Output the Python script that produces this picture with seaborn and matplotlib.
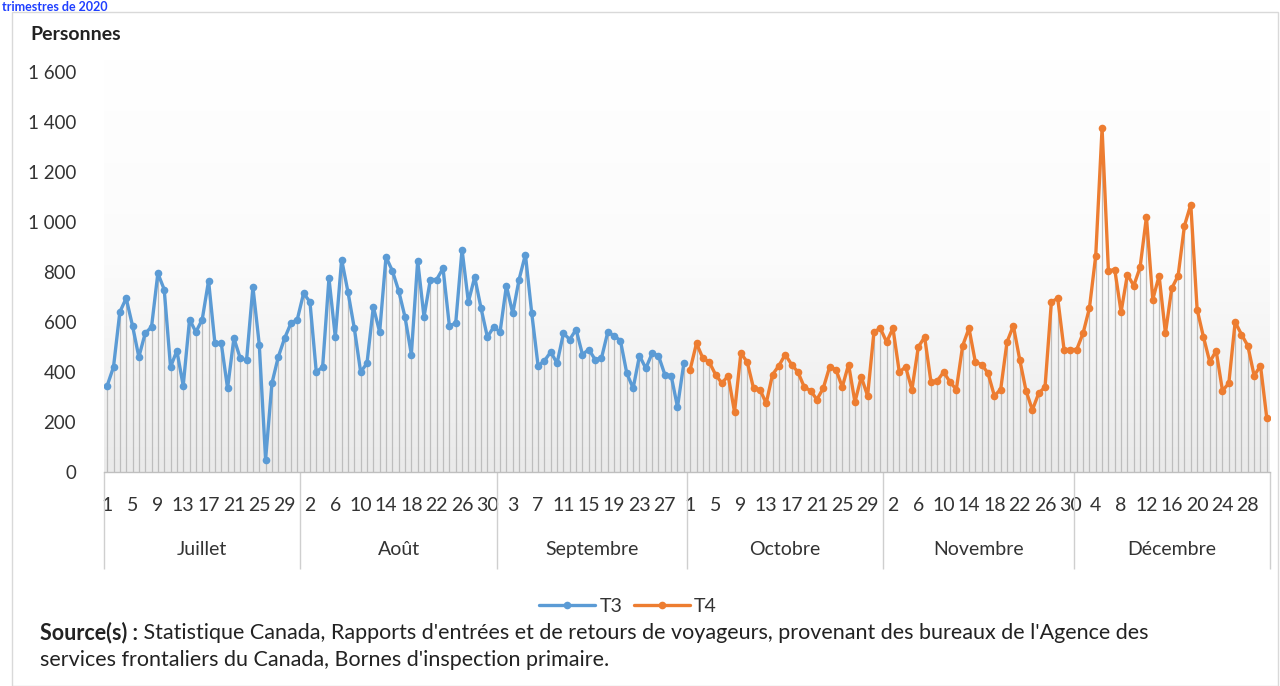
import numpy as np
import pandas as pd
import matplotlib
matplotlib.use("Agg")
import matplotlib.pyplot as plt
from matplotlib.colors import LinearSegmentedColormap
from matplotlib.patches import Rectangle
import seaborn as sns

# valeurs quotidiennes (personnes)
juillet = [345, 420, 640, 695, 585, 460, 555, 580, 795, 730, 420, 485, 345, 610, 560, 610,
           765, 515, 515, 335, 535, 455, 448, 740, 510, 50, 355, 460, 535, 595, 610]
aout = [715, 680, 400, 420, 775, 540, 850, 720, 575, 400, 435, 660, 560, 860, 805, 725,
        620, 470, 845, 620, 770, 770, 815, 585, 595, 890, 680, 780, 655, 540, 580]
septembre = [560, 745, 635, 770, 870, 635, 425, 445, 480, 435, 555, 530, 570, 470, 490,
             450, 455, 560, 545, 525, 395, 335, 465, 415, 475, 465, 390, 385, 260, 435]
octobre = [410, 515, 455, 440, 390, 355, 385, 240, 475, 440, 335, 330, 275, 390, 425, 470,
           430, 400, 340, 325, 290, 335, 420, 410, 340, 430, 280, 380, 305, 560, 575]
novembre = [520, 575, 400, 420, 330, 500, 540, 360, 365, 400, 360, 330, 505, 575, 440,
            430, 395, 305, 330, 520, 585, 450, 325, 248, 315, 340, 680, 695, 490, 490]
decembre = [490, 555, 655, 865, 1375, 805, 810, 640, 790, 745, 819, 1020, 690, 785, 555,
            735, 785, 985, 1070, 650, 540, 440, 485, 325, 355, 600, 550, 505, 385, 425, 215]

mois = ["Juillet", "Août", "Septembre", "Octobre", "Novembre", "Décembre"]
y_ticks = [0, 200, 400, 600, 800, 1000, 1200, 1400, 1600]
y_labels = ["0", "200", "400", "600", "800", "1 000", "1 200", "1 400", "1 600"]

t3 = juillet + aout + septembre
t4 = octobre + novembre + decembre
dates = pd.date_range("2020-07-01", "2020-12-31", freq="D")

df = pd.DataFrame({
    "idx": np.arange(len(dates)),
    "jour": dates.day,
    "mois": dates.month,
    "Personnes": t3 + t4,
    "serie": ["T3"] * len(t3) + ["T4"] * len(t4),
})

sns.set_theme(style="white")
plt.rcParams["font.family"] = ["Lato", "DejaVu Sans"]

fig = plt.figure(figsize=(12.8, 6.86), dpi=100)
ax = fig.add_axes([104 / 1280, 1 - 472 / 686, 1166 / 1280, 412.5 / 686])

n = len(df)
# fond en dégradé
cmap = LinearSegmentedColormap.from_list("fond", ["#ffffff", "#fbfbfb", "#eaeaea"])
ax.imshow(np.linspace(0, 1, 256).reshape(-1, 1), cmap=cmap, aspect="auto",
          extent=[-0.5, n - 0.5, 0, 1650], zorder=0)

# lignes de projection
ax.vlines(df["idx"], 0, df["Personnes"], colors="#bdbdbd", lw=0.9, zorder=1)

sns.lineplot(data=df, x="idx", y="Personnes", hue="serie",
             palette={"T3": "#5B9BD5", "T4": "#ED7D31"}, marker="o",
             markersize=5.5, markeredgewidth=0, lw=2.4, ax=ax, zorder=3, legend=True)

ax.set_xlim(-0.5, n - 0.5)
ax.set_ylim(0, 1650)
ax.set_yticks(y_ticks)
ax.set_yticklabels(y_labels)
ax.set_xlabel("")
ax.set_ylabel("")

for s in ["top", "right", "left"]:
    ax.spines[s].set_visible(False)
ax.spines["bottom"].set_color("#bfbfbf")
ax.spines["bottom"].set_linewidth(1)

tick_pos = df["idx"][::4]
ax.set_xticks(tick_pos)
ax.set_xticklabels(df["jour"][::4].astype(str))
ax.tick_params(axis="x", which="major", length=0, pad=18, labelsize=14, labelcolor="#333333")
ax.tick_params(axis="y", length=0, pad=20, labelsize=13.5, labelcolor="#333333")

# séparateurs de mois
bornes = list(df.groupby("mois")["idx"].min() - 0.5) + [n - 0.5]
ax.set_xticks(bornes, minor=True)
ax.tick_params(axis="x", which="minor", bottom=True, length=70, width=1,
               color="#cfcfcf", direction="out")

centres = list(df.groupby("mois")["idx"].mean())
sec = ax.secondary_xaxis("bottom")
sec.set_xticks(centres)
sec.set_xticklabels(mois)
sec.tick_params(length=0, pad=50, labelsize=14, labelcolor="#333333")
sec.spines["bottom"].set_visible(False)

handles, labels = ax.get_legend_handles_labels()
ax.get_legend().remove()
fig.legend(handles, labels, loc="center", bbox_to_anchor=(628 / 1280, 1 - 606 / 686),
           ncol=2, frameon=False, fontsize=14, handlelength=2.9, columnspacing=0.6,
           handletextpad=0.2, labelcolor="#333333")

fig.text(30 / 1280, 1 - 35 / 686, "Personnes", fontsize=14, fontweight="bold",
         color="#222222", va="center")

src = fig.text(40 / 1280, 1 - 633 / 686, "Source(s) :", fontsize=15.5, fontweight="bold",
               color="#222222", va="center")
ax.annotate(" Statistique Canada, Rapports d'entrées et de retours de voyageurs, "
            "provenant des bureaux de l'Agence des", xy=(1, 0.5), xycoords=src,
            va="center", ha="left", fontsize=15.5, color="#222222")
fig.text(40 / 1280, 1 - 660 / 686,
         "services frontaliers du Canada, Bornes d'inspection primaire.",
         fontsize=15.5, color="#222222", va="center")

# fragment du titre en haut
fig.text(2 / 1280, 1 - 1 / 686, "trimestres de 2020", fontsize=9, fontweight="bold",
         color="#1f3fff", va="top", ha="left")

fig.patches.append(Rectangle((12 / 1280, 0), 1266 / 1280, 1 - 12 / 686,
                             transform=fig.transFigure, fill=False,
                             edgecolor="#d9d9d9", lw=1))

plt.savefig("out.png", dpi=100)
plt.close()
